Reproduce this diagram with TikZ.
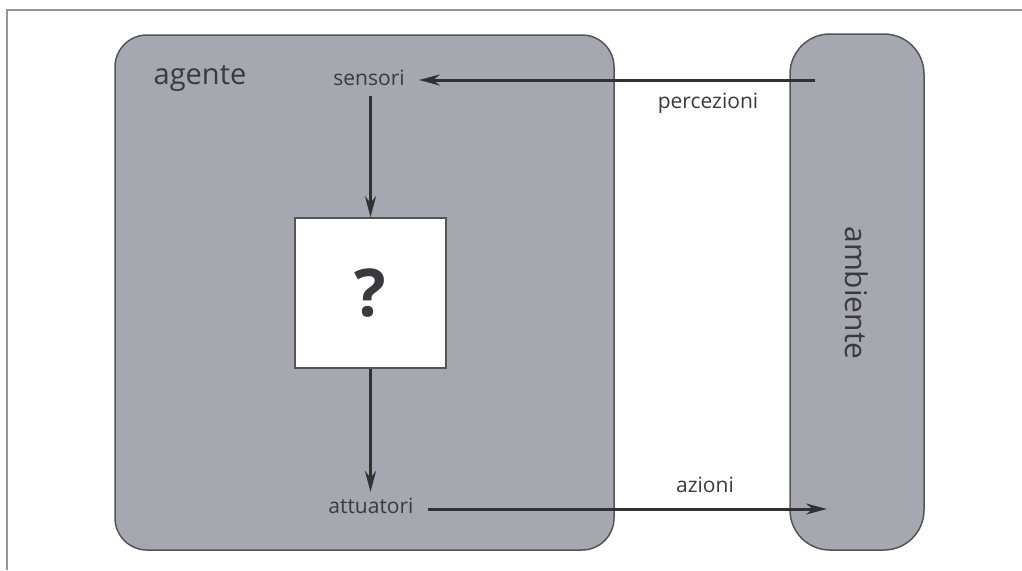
\documentclass[tikz,border=0pt]{standalone}
\usepackage{fontspec}
\setmainfont{Open Sans}
\usetikzlibrary{arrows.meta}
\definecolor{panel}{RGB}{165,168,176}
\definecolor{edge}{RGB}{84,85,90}
\definecolor{ink}{RGB}{58,58,62}
\definecolor{frameline}{RGB}{150,150,152}
\begin{document}
\begin{tikzpicture}[x=1pt,y=-1pt,
  panelbox/.style={fill=panel, draw=edge, line width=1.5pt, inner sep=0pt},
  lbl/.style={text=ink, inner sep=0pt, font=\fontsize{21}{24}\selectfont},
  flow/.style={draw=ink!85!black, line width=3pt, -{Stealth[length=21pt,width=11pt]}}]
\useasboundingbox (0,0) rectangle (1022,570);
\fill[white] (0,0) rectangle (1022,570);
% page frame (left and top edges only)
\draw[frameline, line width=2pt] (7,570) -- (7,10) -- (1022,10);

% agent and environment panels
\node[panelbox, rounded corners=32pt, minimum width=499pt, minimum height=515pt]
  (agent) at (364.5,292.5) {};
\node[panelbox, rounded corners=40pt, minimum width=134pt, minimum height=516pt]
  (env) at (857,292) {};

% the unknown agent function
\node[draw=edge, fill=white, line width=1.5pt, minimum width=151pt, minimum height=150pt,
  inner sep=0pt, text=ink, font=\fontsize{66}{68}\selectfont\bfseries]
  (fn) at (370.5,293) {?};

% labels
\node[text=ink, inner sep=0pt, font=\fontsize{29}{32}\selectfont] (agentlbl) at (200,78) {agente};
\node[text=ink, inner sep=0pt, font=\fontsize{30}{32}\selectfont, rotate=-90] (envlbl) at (857,293) {ambiente};
\node[lbl] (sensori) at (369,78) {sensori};
\node[lbl] (attuatori) at (371,506) {attuatori};
\node[lbl] (perc) at (708,103) {percezioni};
\node[lbl] (azioni) at (705,485) {azioni};

% connectors
\coordinate (pin) at (815,80);
\coordinate (aout) at (827,509);
\draw[flow, shorten >=14pt] (pin) -- (pin -| sensori.east);
\draw[flow, shorten <=10pt] (sensori.south -| fn.north) -- (fn.north);
\draw[flow, shorten >=6pt] (fn.south) -- (fn.south |- attuatori.north);
\draw[flow, shorten <=14pt] (attuatori.east |- aout) -- (aout);
\end{tikzpicture}
\end{document}
